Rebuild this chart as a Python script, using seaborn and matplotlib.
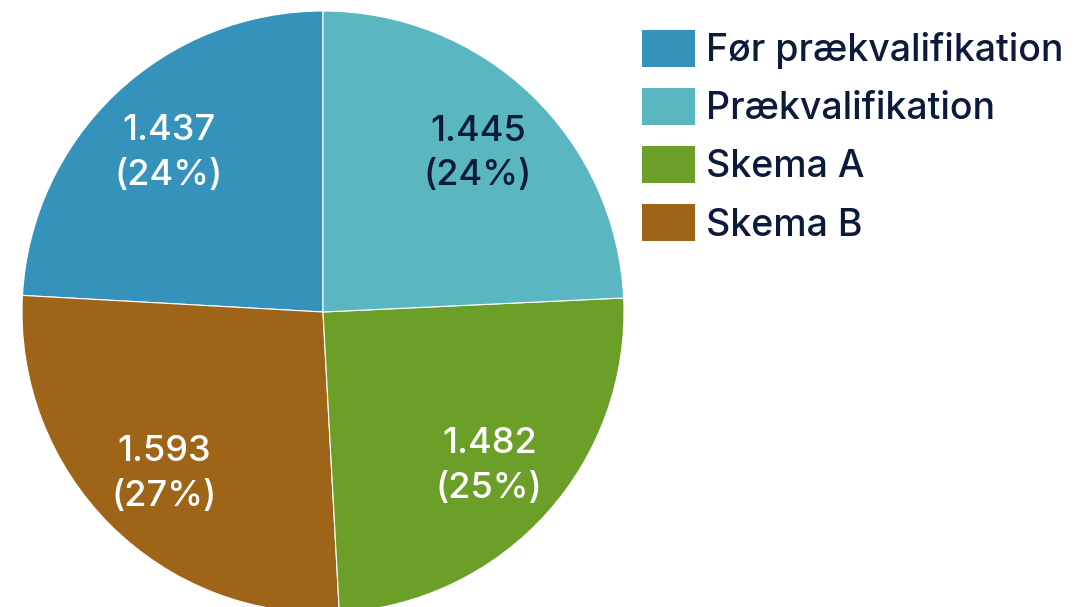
import numpy as np
import seaborn as sns
import matplotlib.pyplot as plt
from matplotlib.patches import Patch

sns.set_style("white")
plt.rcParams['font.family'] = ['Inter', 'DejaVu Sans']

# Data (legend order)
categories = ["Før prækvalifikation", "Prækvalifikation", "Skema A", "Skema B"]
values = [1437, 1445, 1482, 1593]
colors = ["#3592ba", "#5ab6c0", "#6b9f28", "#9e6418"]
label_colors = ["white", "#0c1a3c", "white", "white"]
text_color = "#0c1a3c"

# Drawing order counter-clockwise from the top
draw_order = [0, 3, 2, 1]

fig = plt.figure(figsize=(10.78, 6.07), dpi=100)
W, H = 1078, 607
cx, cy, r = 323, 312, 301
ax = fig.add_axes([(cx - r) / W, (H - cy - r) / H, 2 * r / W, 2 * r / H])

total = sum(values)
wedges, texts = ax.pie([values[i] for i in draw_order],
                       colors=[colors[i] for i in draw_order],
                       startangle=90, counterclock=True,
                       labels=[f"{values[i]:,}".replace(",", ".") + f"\n({values[i] / total * 100:.0f}%)" for i in draw_order],
                       labeldistance=0.745,
                       wedgeprops=dict(edgecolor="white", linewidth=0.8),
                       textprops=dict(fontsize=26, fontweight="medium", ha="center",
                                      va="center", linespacing=1.45))
for t, i in zip(texts, draw_order):
    t.set_color(label_colors[i])
    t.set_horizontalalignment("center")
    x, y = t.get_position()
    t.set_position((x, y - 0.012))
ax.set_xlim(-1, 1)
ax.set_ylim(-1, 1)
ax.set_aspect("equal")
ax.axis("off")

handles = [Patch(facecolor=colors[i], edgecolor="none") for i in range(4)]
leg = fig.legend(handles, categories, loc="upper left",
                 bbox_to_anchor=(627 / W, 1 - 15 / H), frameon=False,
                 prop=dict(size=27, weight="medium"),
                 handlelength=1.4, handleheight=1.15,
                 handletextpad=0.3, labelspacing=0.5, borderaxespad=0)
for t in leg.get_texts():
    t.set_color(text_color)

fig.savefig("out.png", dpi=100)
